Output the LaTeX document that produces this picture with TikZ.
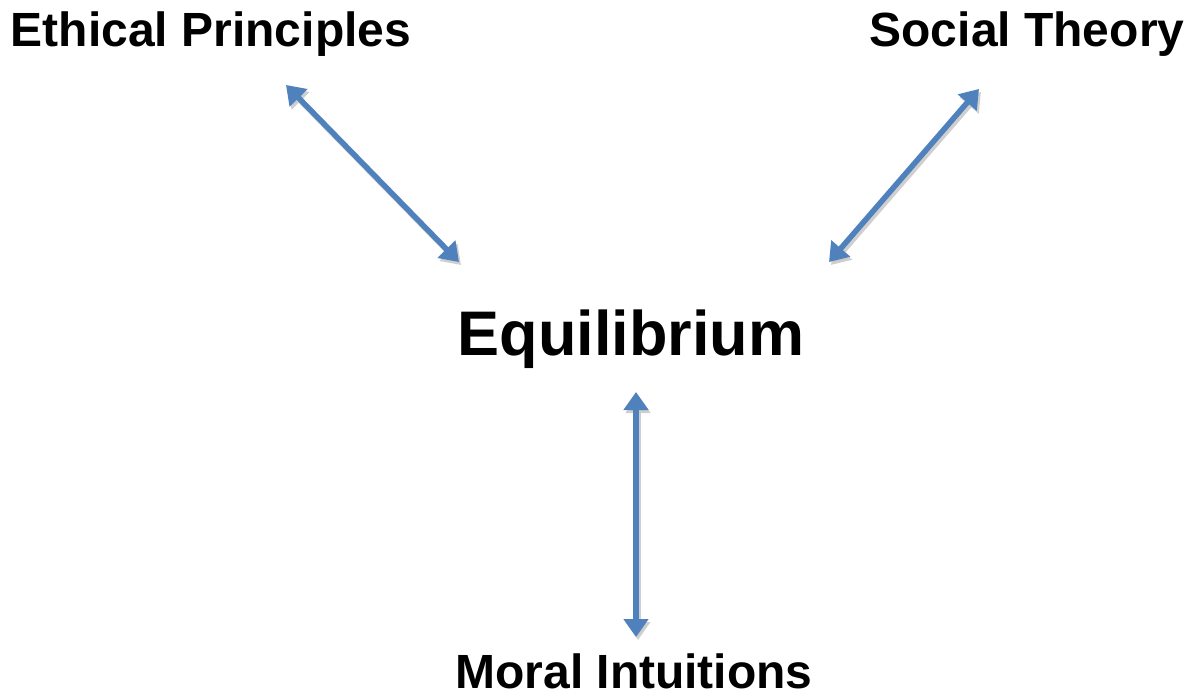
\documentclass[tikz,border=0pt]{standalone}
\usepackage{fontspec}
\setmainfont{Liberation Sans}
\usetikzlibrary{arrows.meta,backgrounds}
\definecolor{arrowblue}{HTML}{4F81BD}
\definecolor{shadowgray}{HTML}{C4C4C4}
\tikzset{
    label/.style={font=\bfseries\fontsize{48}{48}\selectfont, anchor=base, inner sep=0pt},
    linkarrow/.style={arrowblue, line width=5.5pt, {Triangle[width=24pt,length=18pt]}-{Triangle[width=24pt,length=18pt]}},
    linkshadow/.style={linkarrow, shadowgray, opacity=0.8, transform canvas={shift={(2pt,-3pt)}}}
}

\begin{document}
\begin{tikzpicture}[x=1pt, y=-1pt]
    % white background
    \begin{scope}[on background layer]
        \fill [white] (0,0) rectangle (1189,696);
    \end{scope}
    \useasboundingbox (0,0) rectangle (1189,696);

    % add labels
    \node[label] (ethics) at (211,46) {Ethical Principles};
    \node[label] (social) at (1027,46) {Social Theory};
    \node[label, font=\bfseries\fontsize{63}{63}\selectfont] (equil) at (631,355) {Equilibrium};
    \node[label] (intuit) at (634,688) {Moral Intuitions};

    % arrow ends
    \coordinate (ethics-end) at (286,85);
    \coordinate (equil-nw) at (459,262);
    \coordinate (social-end) at (979,89);
    \coordinate (equil-ne) at (829,262);
    \coordinate (equil-s) at (636,392);
    \coordinate (intuit-end) at (636,637);

    % draw shadows
    \draw[linkshadow] (ethics-end) -- (equil-nw);
    \draw[linkshadow] (social-end) -- (equil-ne);
    \draw[linkshadow] (equil-s) -- (intuit-end);

    % draw arrows
    \draw[linkarrow] (ethics-end) -- (equil-nw);
    \draw[linkarrow] (social-end) -- (equil-ne);
    \draw[linkarrow] (equil-s) -- (intuit-end);

\end{tikzpicture}
\end{document}
